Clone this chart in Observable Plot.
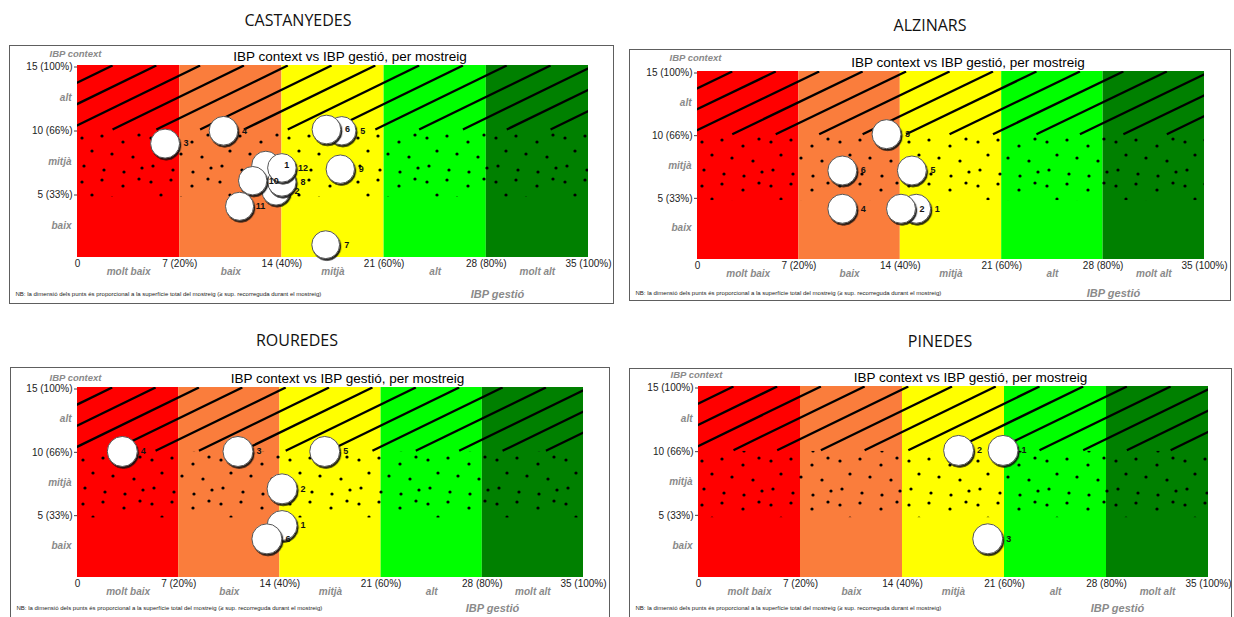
<!DOCTYPE html>
<html><head><meta charset="utf-8">
<script src="https://cdn.jsdelivr.net/npm/d3@7"></script>
<script src="https://cdn.jsdelivr.net/npm/@observablehq/plot@0.6"></script>
<style>
html,body{margin:0;padding:0;background:#fff;}
body{width:1234px;height:617px;position:relative;overflow:hidden;}
.ptitle{position:absolute;font-family:"Open Sans","Noto Sans",sans-serif;font-size:16px;color:#111;transform:translate(-50%,-50%);white-space:nowrap;}
</style></head><body>
<svg width="0" height="0" style="position:absolute">
  <defs>
    <pattern id="dots" patternUnits="userSpaceOnUse" width="69" height="44">
      <circle cx="4" cy="5" r="1.6" fill="#000"/>
      <circle cx="24" cy="3" r="1.6" fill="#000"/>
      <circle cx="45" cy="9" r="1.6" fill="#000"/>
      <circle cx="61" cy="2" r="1.6" fill="#000"/>
      <circle cx="14" cy="18" r="1.6" fill="#000"/>
      <circle cx="34" cy="21" r="1.6" fill="#000"/>
      <circle cx="55" cy="24" r="1.6" fill="#000"/>
      <circle cx="6" cy="33" r="1.6" fill="#000"/>
      <circle cx="26" cy="37" r="1.6" fill="#000"/>
      <circle cx="46" cy="39" r="1.6" fill="#000"/>
      <circle cx="64" cy="35" r="1.6" fill="#000"/>
    </pattern>
    <filter id="bshadow" x="-30%" y="-30%" width="160%" height="160%">
      <feDropShadow dx="1.2" dy="1.8" stdDeviation="0.6" flood-color="#111" flood-opacity="0.9"/>
    </filter>
  </defs>
</svg>
<script>
// ---- shared axis data ----
const bandNames = ["molt baix", "baix", "mitjà", "alt", "molt alt"];
const bandStarts = [0, 7, 14, 21, 28];
const bandColors = ["#ff0000", "#fa7d3c", "#ffff00", "#00ff00", "#008000"];
const xTicks = [0, 7, 14, 21, 28, 35];
const xTickLabels = ["0", "7 (20%)", "14 (40%)", "21 (60%)", "28 (80%)", "35 (100%)"];
const yTicks = [15, 10, 5];
const yTickLabels = ["15 (100%)", "10 (66%)", "5 (33%)"];
const yLevelNames = ["alt", "mitjà", "baix"];
const yLevelPos = [12.5, 7.5, 2.5];
const hatchStarts = [-6.6, -3.6, -0.6, 2.4, 5.4, 8.4, 11.4, 14.4, 17.4, 20.4, 23.4, 26.4, 29.4, 32.4];
const hatchRun = 9;
const dotZone = [4.7, 9.9];
const chartTitle = "IBP context vs IBP gestió, per mostreig";
const nbText = "NB: la dimensió dels punts és proporcional a la superfície total del mostreig (≥ sup. recorreguda durant el mostreig)";

// ---- CASTANYEDES ----
const castIds = [1, 2, 3, 4, 5, 6, 7, 8, 9, 10, 11, 12];
const castGestio = [12.9, 13.6, 6.0, 10.0, 18.1, 17.05, 17.0, 14.0, 18.0, 12.0, 11.1, 14.0];
const castContext = [7.2, 5.2, 8.9, 9.9, 9.9, 10.0, 1.0, 5.9, 6.9, 6.0, 4.0, 7.0];
const castSize = [95, 95, 100, 98, 96, 98, 92, 96, 96, 96, 94, 97];

// ---- ALZINARS ----
const alzIds = [1, 2, 3, 4, 5, 6];
const alzGestio = [15.1, 14.05, 13.05, 10.0, 14.8, 10.0];
const alzContext = [4.05, 4.05, 10.0, 4.05, 7.1, 7.1];
const alzSize = [100, 100, 100, 100, 100, 100];

// ---- ROUREDES ----
const rouIds = [1, 2, 3, 4, 5, 6];
const rouGestio = [14.15, 14.15, 11.1, 3.1, 17.1, 13.1];
const rouContext = [4.1, 7.0, 9.95, 9.95, 9.95, 3.05];
const rouSize = [100, 100, 100, 100, 100, 100];

// ---- PINEDES ----
const pinIds = [1, 2, 3];
const pinGestio = [20.9, 17.85, 19.85];
const pinContext = [9.98, 9.98, 3.04];
const pinSize = [100, 100, 100];

const panels = [
  {name: "CASTANYEDES", ids: castIds, gx: castGestio, cy: castContext, sz: castSize,
   box: [9, 45, 605, 259], m: [20, 26, 47, 68], nb: 37, ctx: -12, tpos: [298, 20], rMax: 14.5},
  {name: "ALZINARS", ids: alzIds, gx: alzGestio, cy: alzContext, sz: alzSize,
   box: [629, 49, 602, 252], m: [22, 27, 42, 68], nb: 34, ctx: -14, tpos: [930, 25], rMax: 14.5},
  {name: "ROUREDES", ids: rouIds, gx: rouGestio, cy: rouContext, sz: rouSize,
   box: [10, 367, 600, 262], m: [20, 27, 52, 67], nb: 31, ctx: -10, tpos: [297, 340], rMax: 15},
  {name: "PINEDES", ids: pinIds, gx: pinGestio, cy: pinContext, sz: pinSize,
   box: [629, 368, 603, 262], m: [18, 24, 53, 69], nb: 31, ctx: -12, tpos: [940, 341], rMax: 15}
];

const FONT = "'Liberation Sans', Arial, sans-serif";
const GRAY = "#8a8a8a";

for (const p of panels) {
  const t = document.createElement("div");
  t.className = "ptitle";
  t.textContent = p.name;
  t.style.left = p.tpos[0] + "px";
  t.style.top = p.tpos[1] + "px";
  document.body.appendChild(t);

  const pts = p.ids.map((id, i) => ({id, x: p.gx[i], y: p.cy[i], s: p.sz[i]}));
  const bands = bandStarts.map((s, i) => ({x1: s, x2: s + 7, fill: bandColors[i], name: bandNames[i]}));
  const hatch = hatchStarts.map(s => ({x1: s, x2: s + hatchRun, y1: 10, y2: 15}));
  const [bl, bt, bw, bh] = p.box;
  const [mt, mr, mb, ml] = p.m;

  const svg = Plot.plot({
    width: bw, height: bh,
    marginTop: mt, marginRight: mr, marginBottom: mb, marginLeft: ml,
    x: {domain: [0, 35]},
    y: {domain: [0, 15]},
    r: {type: "sqrt", domain: [0, 100], range: [0, p.rMax]},
    color: {type: "identity"},
    style: {fontFamily: FONT, fontSize: "10px", background: "white", overflow: "visible", color: "#222"},
    marks: [
      Plot.rect(bands, {x1: "x1", x2: "x2", y1: 0, y2: 15, fill: "fill"}),
      Plot.rect([dotZone], {x1: 0, x2: 35, y1: d => d[0], y2: d => d[1], fill: "url(#dots)"}),
      Plot.link(hatch, {x1: "x1", y1: "y1", x2: "x2", y2: "y2", stroke: "#000", strokeWidth: 2.3, clip: true}),
      Plot.axisY({ticks: yTicks, tickSize: 3, tickPadding: 2, label: null, fontSize: 10, dy: 1.5,
        tickFormat: d => yTickLabels[yTicks.indexOf(d)], stroke: "#444"}),
      Plot.text(yLevelNames, {x: 0, y: (d, i) => yLevelPos[i], text: d => d, textAnchor: "end", dx: -6,
        fontStyle: "italic", fontWeight: "bold", fontSize: 10, fill: GRAY}),
      Plot.axisX({ticks: xTicks, tickSize: 0, tickPadding: 2, label: null, fontSize: 10,
        tickFormat: d => xTickLabels[xTicks.indexOf(d)]}),
      Plot.text(bands, {x: d => d.x1 + 3.5, y: 0, dy: 14, text: "name",
        fontStyle: "italic", fontWeight: "bold", fontSize: 10, fill: GRAY}),
      Plot.text(["IBP context"], {frameAnchor: "top-left", dx: -2, dy: p.ctx, text: d => d, textAnchor: "middle",
        lineAnchor: "middle", fontStyle: "italic", fontWeight: "bold", fontSize: 9.5, fill: GRAY}),
      Plot.text([chartTitle], {frameAnchor: "top", dx: 17, dy: -9, text: d => d, lineAnchor: "middle",
        fontSize: 13.5, fill: "#000"}),
      Plot.text([nbText], {frameAnchor: "bottom-left", dx: -(ml - 6), dy: p.nb, text: d => d, textAnchor: "start",
        lineAnchor: "middle", fontSize: 6, fill: "#222"}),
      Plot.text(["IBP gestió"], {frameAnchor: "bottom-right", dx: -91, dy: p.nb, text: d => d, textAnchor: "middle",
        lineAnchor: "middle", fontStyle: "italic", fontWeight: "bold", fontSize: 11, fill: GRAY}),
      Plot.dot(pts, {x: "x", y: "y", r: "s", fill: "white", stroke: "#555", strokeWidth: 1, sort: null}),
      Plot.text(pts, {x: "x", y: "y", text: d => String(d.id), dx: 21, fontWeight: "bold", fontSize: 9, fill: "#111"})
    ]
  });
  svg.style.position = "absolute";
  svg.style.left = bl + "px";
  svg.style.top = bt + "px";
  svg.style.outline = "1.5px solid #5e5e5e";
  svg.style.outlineOffset = "-1.5px";
  svg.style.maxWidth = "none";
  svg.querySelectorAll('g[aria-label="dot"] circle').forEach(c => c.setAttribute("filter", "url(#bshadow)"));
  document.body.appendChild(svg);
}
</script>
</body></html>
